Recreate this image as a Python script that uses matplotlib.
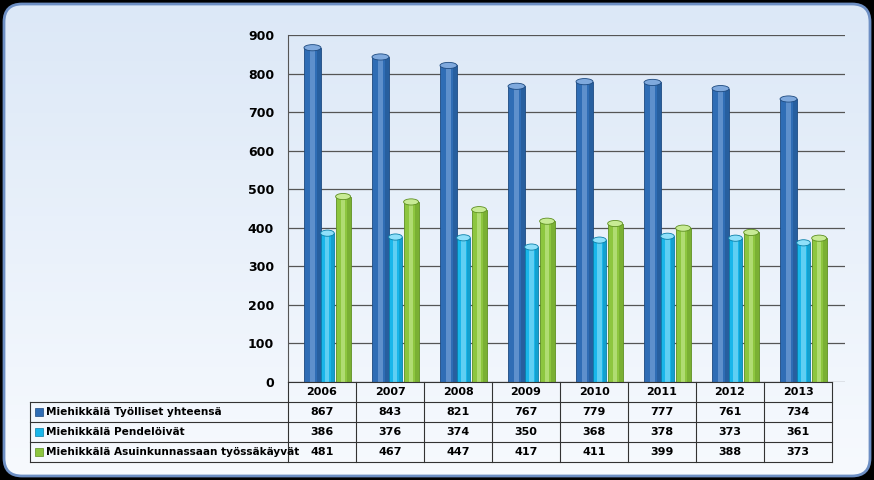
import numpy as np
import matplotlib.pyplot as plt
from matplotlib.patches import FancyBboxPatch, Rectangle, Ellipse

years = ['2006', '2007', '2008', '2009', '2010', '2011', '2012', '2013']
series_names = ['Miehikkälä Työlliset yhteensä', 'Miehikkälä Pendelöivät',
                'Miehikkälä Asuinkunnassaan työssäkäyvät']
tyolliset = [867, 843, 821, 767, 779, 777, 761, 734]
pendeloivat = [386, 376, 374, 350, 368, 378, 373, 361]
asuinkunnassa = [481, 467, 447, 417, 411, 399, 388, 373]
yticks = list(range(0, 901, 100))

colors = ['#2F6DB5', '#19B6EA', '#8DC63F']
dark = ['#1D4A80', '#0A7FA8', '#5E8F22']
light = ['#7FA9DD', '#8FE0FA', '#C8EB95']

W, H = 874, 480
fig = plt.figure(figsize=(W / 100, H / 100), dpi=100)
fig.patch.set_facecolor('black')

# rounded background panel
bg = fig.add_axes([0, 0, 1, 1])
bg.set_xlim(0, W); bg.set_ylim(H, 0); bg.axis('off')
grad = np.linspace(0, 1, 100).reshape(-1, 1)
panel = FancyBboxPatch((4, 4), W - 8, H - 8, boxstyle='round,pad=0,rounding_size=18',
                       facecolor='none', edgecolor='#6D8FC4', linewidth=2)
bg.add_patch(panel)
im = bg.imshow(grad, extent=(4, W - 4, H - 4, 4), cmap=plt.matplotlib.colors.LinearSegmentedColormap.from_list(
    'g', ['#DCE8F7', '#F7FAFE']), aspect='auto')
im.set_clip_path(panel)

# chart axes
x0, x1, ytop, ybot = 288, 845, 35, 382
ax = fig.add_axes([x0 / W, 1 - ybot / H, (x1 - x0) / W, (ybot - ytop) / H])
ax.set_facecolor('none')
ax.set_xlim(-0.5, 7.69)
ax.set_ylim(0, 900)
ax.set_yticks(yticks)
ax.set_yticklabels([str(t) for t in yticks], fontsize=9, fontweight='bold')
ax.set_xticks([])
ax.grid(axis='y', color='#555555', linewidth=0.9)
ax.set_axisbelow(True)
for s in ['top', 'right', 'bottom']:
    ax.spines[s].set_visible(False)
ax.spines['left'].set_color('#555555')
ax.tick_params(axis='y', length=0, pad=10)

x = np.arange(len(years))
offsets = [-0.14, 0.08, 0.31]
widths = [0.25, 0.2, 0.22]
for vals, off, w, c, d, l in zip([tyolliset, pendeloivat, asuinkunnassa], offsets, widths, colors, dark, light):
    for xi, v in zip(x + off, vals):
        ax.add_patch(Rectangle((xi - w / 2, 0), w, v, facecolor=c, edgecolor=d, lw=0.6, clip_on=False, zorder=3))
        ax.add_patch(Rectangle((xi - w * 0.15, 0), w * 0.3, v, facecolor=l, edgecolor='none', alpha=0.6, clip_on=False, zorder=3))
        ax.add_patch(Rectangle((xi + w * 0.25, 0), w * 0.25, v, facecolor=d, edgecolor='none', alpha=0.4, clip_on=False, zorder=3))
        ax.add_patch(Ellipse((xi, v), w, 16, facecolor=l, edgecolor=d, lw=0.6, clip_on=False, zorder=4))

# data table
tab = fig.add_axes([0, 0, 1, 1])
tab.set_xlim(0, W); tab.set_ylim(H, 0); tab.axis('off')
col_x = np.linspace(288, 832, len(years) + 1)
row_y = [382, 402, 422, 442, 462]
lc = '#333333'
for cx in col_x:
    tab.plot([cx, cx], [row_y[0], row_y[-1]], color=lc, lw=0.8)
tab.plot([col_x[0], col_x[-1]], [row_y[0], row_y[0]], color=lc, lw=0.8)
for ry in row_y[1:]:
    tab.plot([30, col_x[-1]], [ry, ry], color=lc, lw=0.8)
tab.plot([30, 30], [row_y[1], row_y[-1]], color=lc, lw=0.8)
for i, yr in enumerate(years):
    tab.text((col_x[i] + col_x[i + 1]) / 2, (row_y[0] + row_y[1]) / 2, yr,
             ha='center', va='center', fontsize=8, fontweight='bold')
for r, (name, vals) in enumerate(zip(series_names, [tyolliset, pendeloivat, asuinkunnassa])):
    cy = (row_y[r + 1] + row_y[r + 2]) / 2
    tab.add_patch(Rectangle((35, cy - 4), 8, 8, facecolor=colors[r], edgecolor=dark[r], lw=0.5))
    tab.text(46, cy, name, ha='left', va='center', fontsize=7.6, fontweight='bold')
    for i, v in enumerate(vals):
        tab.text((col_x[i] + col_x[i + 1]) / 2, cy, str(v), ha='center', va='center',
                 fontsize=8, fontweight='bold')

fig.savefig('out.png', dpi=100, facecolor=fig.get_facecolor())
